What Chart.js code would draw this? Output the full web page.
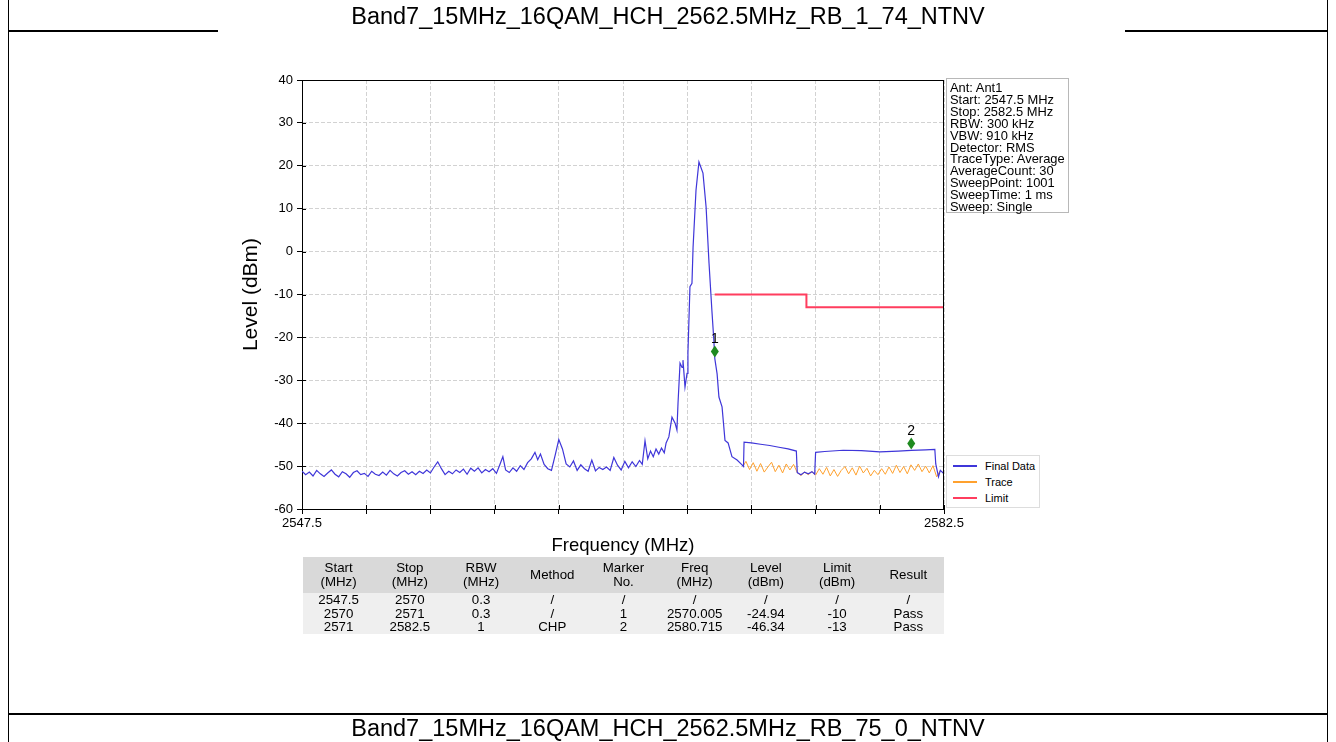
<!DOCTYPE html>
<html><head><meta charset="utf-8">
<script src="https://cdn.jsdelivr.net/npm/chart.js@4/dist/chart.umd.min.js"></script>
<style>
html,body{margin:0;padding:0;background:#fff;}
body{width:1336px;height:742px;position:relative;overflow:hidden;font-family:Arial,"Liberation Sans",sans-serif;color:#000;}
.ln{position:absolute;background:#000;}
.pt{position:absolute;left:8px;width:1320px;text-align:center;font-size:23.5px;line-height:28px;white-space:nowrap;}
#c{position:absolute;left:0;top:0;}
#info{position:absolute;left:946px;top:78px;width:123px;height:135px;border:1px solid #b8b8b8;font-size:12.9px;line-height:11.9px;padding:3px 0 0 3px;box-sizing:border-box;white-space:nowrap;background:#fff;}
#legend{position:absolute;left:946px;top:455px;width:94px;height:53px;border:1px solid #dddddd;box-sizing:border-box;background:#fff;font-size:11px;}
#legend .it{position:absolute;left:6px;height:14px;width:90px;}
#legend .sw{position:absolute;left:0;top:6px;width:24px;height:2px;}
#legend .tx{position:absolute;left:32px;top:0;line-height:14px;}
#tbl{position:absolute;left:303px;top:557px;width:641px;border-collapse:collapse;table-layout:fixed;font-size:13.3px;}
#tbl td{text-align:center;padding:0;line-height:13.6px;white-space:nowrap;}
#tbl tr.h td{background:#d9d9d9;height:36px;line-height:14px;}
#tbl tr.d td{background:#efefef;}
</style></head>
<body>
<canvas id="c" width="1336" height="742"></canvas>
<div class="ln" style="left:8px;top:0;width:1px;height:742px"></div>
<div class="ln" style="left:1327px;top:0;width:1px;height:742px"></div>
<div class="ln" style="left:8px;top:30px;width:210px;height:2px"></div>
<div class="ln" style="left:1125px;top:30px;width:203px;height:2px"></div>
<div class="ln" style="left:8px;top:713px;width:1320px;height:2px"></div>
<div class="pt" id="t1" style="top:2px"></div>
<div class="pt" id="t2" style="top:714px"></div>
<div id="info"></div>
<div id="legend"></div>
<table id="tbl"></table>
<script>
// ---------- data ----------
const pageTitleTop = 'Band7_15MHz_16QAM_HCH_2562.5MHz_RB_1_74_NTNV';
const pageTitleBottom = 'Band7_15MHz_16QAM_HCH_2562.5MHz_RB_75_0_NTNV';
const xTickValues = [2547.5,2551,2554.5,2558,2561.5,2565,2568.5,2572,2575.5,2579,2582.5];
const yTickValues = [-60,-50,-40,-30,-20,-10,0,10,20,30,40];

const finalFreq = [
2547.5,2547.7,2547.9,2548.1,2548.3,2548.5,2548.7,2548.9,2549.1,2549.3,2549.5,2549.7,2549.9,2550.1,2550.3,2550.5,2550.7,2550.9,
2551.1,2551.3,2551.5,2551.7,2551.9,2552.1,2552.3,2552.5,2552.7,2552.9,2553.1,2553.3,2553.5,2553.7,2553.9,2554.1,2554.3,2554.5,
2554.7,2554.9,2555.1,2555.3,2555.5,2555.7,2555.9,2556.1,2556.3,2556.5,2556.7,2556.9,2557.1,2557.3,2557.5,2557.7,2557.9,2558.1,
2558.3,2558.45,2558.6,2558.8,2559.0,2559.2,2559.4,2559.6,2559.8,2560.0,2560.2,2560.35,2560.5,2560.7,2560.9,2561.1,2561.3,2561.5,
2561.7,2561.9,2562.1,2562.3,2562.5,2562.7,2562.9,2563.1,2563.3,2563.5,2563.7,2563.9,2564.1,2564.3,2564.5,2564.7,2564.9,2565.1,
2565.3,2565.5,2565.7,2565.9,2566.05,2566.2,2566.35,2566.5,2566.65,2566.8,2566.95,2567.1,2567.25,2567.35,2567.5,2567.67,2567.84,
2567.94,2568.0,2568.11,2568.22,2568.27,2568.38,2568.49,2568.54,2568.65,2568.76,2568.82,2568.98,2569.14,2569.36,2569.53,2569.69,
2569.85,2569.95,2570.005,2570.13,2570.23,2570.4,2570.56,2570.73,2570.94,2571.22,2571.49,2571.57,2571.6,2572.0,2572.5,2573.0,
2573.5,2574.0,2574.45,2574.5,2574.7,2574.9,2575.1,2575.3,2575.45,2575.5,2576.0,2577.0,2578.0,2579.0,2580.0,2580.715,2581.5,
2582.0,2582.05,2582.2,2582.3,2582.5];
const finalLevel = [
-51.2,-52.0,-51.4,-52.3,-51.0,-51.8,-52.4,-51.6,-50.9,-51.9,-52.5,-51.3,-51.8,-52.6,-51.5,-51.1,-52.0,-51.7,
-52.4,-51.2,-51.9,-52.2,-51.4,-52.1,-51.0,-51.8,-52.3,-51.5,-51.1,-51.9,-51.3,-52.0,-51.2,-51.7,-50.9,-51.6,
-50.2,-49.0,-50.6,-52.0,-51.2,-51.8,-50.9,-51.5,-50.7,-51.9,-50.5,-51.2,-50.4,-51.6,-50.8,-51.3,-50.6,-51.7,
-49.5,-47.8,-50.9,-51.5,-50.4,-51.2,-49.9,-50.8,-49.2,-48.3,-46.8,-48.5,-47.2,-49.6,-50.6,-51.0,-47.5,-43.8,
-46.0,-49.5,-50.2,-48.8,-51.0,-49.7,-50.6,-51.2,-48.6,-51.1,-50.3,-50.8,-50.2,-51.0,-48.0,-49.8,-50.9,-48.9,
-50.4,-49.0,-50.1,-48.7,-49.6,-44.1,-48.3,-46.5,-47.8,-46.0,-47.2,-45.8,-46.9,-44.6,-43.2,-38.6,-40.0,
-41.6,-35.3,-26.0,-27.0,-25.3,-31.6,-28.4,-23.7,-8.2,-7.4,1.0,14.3,20.9,18.3,10.4,-2.7,
-14.0,-20.5,-24.94,-28.5,-33.9,-36.2,-44.0,-44.6,-47.8,-48.6,-49.7,-50.1,-44.4,-44.6,-44.9,-45.2,
-45.6,-46.0,-46.5,-51.5,-52.0,-51.4,-51.8,-51.3,-51.9,-46.8,-46.6,-46.3,-46.4,-46.7,-46.5,-46.34,-46.2,
-46.1,-49.5,-52.5,-51.0,-51.8];

const traceFreq = [
2571.55,2571.7,2571.9,2572.1,2572.3,2572.5,2572.7,2572.9,2573.1,2573.3,2573.5,2573.7,2573.9,2574.1,2574.3,2574.5,
2574.7,2574.9,2575.1,2575.3,2575.5,2575.7,2575.9,2576.1,2576.3,2576.5,2576.7,2576.9,2577.1,2577.3,2577.5,2577.7,
2577.9,2578.1,2578.3,2578.5,2578.7,2578.9,2579.1,2579.3,2579.5,2579.7,2579.9,2580.1,2580.3,2580.5,2580.7,2580.9,
2581.1,2581.3,2581.5,2581.7,2581.9,2582.1,2582.3,2582.5];
const traceLevel = [
-50.0,-48.9,-50.8,-49.2,-51.2,-49.4,-51.4,-50.2,-49.1,-51.3,-49.8,-51.6,-49.5,-50.9,-49.6,-51.5,
-52.2,-51.4,-52.0,-51.3,-52.1,-50.6,-51.9,-50.3,-52.3,-50.8,-52.4,-51.0,-50.1,-51.8,-50.4,-52.1,
-50.0,-51.6,-50.5,-52.3,-51.0,-52.0,-50.6,-51.9,-50.2,-51.7,-49.8,-51.5,-50.1,-51.8,-49.7,-51.0,
-49.5,-51.3,-50.0,-51.6,-49.9,-52.5,-51.0,-51.8];

const limitFreq = [2570, 2575, 2575, 2582.5];
const limitLevel = [-10, -10, -13, -13];

const markerNo = ['1', '2'];
const markerFreq = [2570.005, 2580.715];
const markerLevel = [-24.94, -46.34];

const seriesNames = ['Final Data', 'Trace', 'Limit'];
const seriesColors = ['#3f36d9', '#ffa12e', '#ff3d5e'];

const infoLines = ['Ant: Ant1','Start: 2547.5 MHz','Stop: 2582.5 MHz','RBW: 300 kHz','VBW: 910 kHz','Detector: RMS',
  'TraceType: Average','AverageCount: 30','SweepPoint: 1001','SweepTime: 1 ms','Sweep: Single'];

const tableHeader = ['Start<br>(MHz)','Stop<br>(MHz)','RBW<br>(MHz)','Method','Marker<br>No.','Freq<br>(MHz)','Level<br>(dBm)','Limit<br>(dBm)','Result'];
const tableRows = [
  ['2547.5','2570','0.3','/','/','/','/','/','/'],
  ['2570','2571','0.3','/','1','2570.005','-24.94','-10','Pass'],
  ['2571','2582.5','1','CHP','2','2580.715','-46.34','-13','Pass']
];

// ---------- html parts ----------
document.getElementById('t1').textContent = pageTitleTop;
document.getElementById('t2').textContent = pageTitleBottom;
document.getElementById('info').innerHTML = infoLines.map(s => '<div>' + s + '</div>').join('');
document.getElementById('legend').innerHTML = seriesNames.map((n, i) =>
  '<div class="it" style="top:' + (3 + i * 16) + 'px"><div class="sw" style="background:' + seriesColors[i] + '"></div><div class="tx">' + n + '</div></div>').join('');
let th = '<colgroup>' + tableHeader.map(() => '<col style="width:71.2px">').join('') + '</colgroup>';
th += '<tr class="h">' + tableHeader.map(h => '<td>' + h + '</td>').join('') + '</tr>';
th += tableRows.map(r => '<tr class="d">' + r.map(c => '<td>' + c + '</td>').join('') + '</tr>').join('');
document.getElementById('tbl').innerHTML = th;

// ---------- chart ----------
const toXY = (fs, ls) => fs.map((f, i) => ({x: f, y: ls[i]}));

const framePlugin = {
  id: 'frame',
  afterDatasetsDraw(chart) {
    const {ctx, chartArea: a, scales} = chart;
    ctx.save();
    ctx.strokeStyle = '#000';
    ctx.lineWidth = 1;
    ctx.beginPath();
    ctx.moveTo(a.left, a.top + 0.5); ctx.lineTo(a.right, a.top + 0.5);
    ctx.moveTo(a.right - 0.5, a.top); ctx.lineTo(a.right - 0.5, a.bottom);
    scales.x.ticks.forEach(t => {
      const px = Math.round(scales.x.getPixelForValue(t.value)) + 0.5;
      ctx.moveTo(px, a.bottom); ctx.lineTo(px, a.bottom - 4);
    });
    scales.y.ticks.forEach(t => {
      const py = Math.round(scales.y.getPixelForValue(t.value)) + 0.5;
      ctx.moveTo(a.left, py); ctx.lineTo(a.left + 4, py);
    });
    ctx.stroke();
    ctx.restore();
  }
};

const markerPlugin = {
  id: 'markers',
  afterDatasetsDraw(chart) {
    const {ctx, scales} = chart;
    ctx.save();
    markerFreq.forEach((f, i) => {
      const px = scales.x.getPixelForValue(f);
      const py = scales.y.getPixelForValue(markerLevel[i]) - 7;
      ctx.fillStyle = '#1f8a1f';
      ctx.beginPath();
      ctx.moveTo(px, py - 6); ctx.lineTo(px + 4, py); ctx.lineTo(px, py + 6); ctx.lineTo(px - 4, py);
      ctx.closePath(); ctx.fill();
      ctx.fillStyle = '#000';
      ctx.font = '14px Arial, "Liberation Sans", sans-serif';
      ctx.textAlign = 'center'; ctx.textBaseline = 'middle';
      ctx.fillText(markerNo[i], px, py - 12);
    });
    ctx.restore();
  }
};

new Chart(document.getElementById('c'), {
  type: 'line',
  data: {
    datasets: [
      {label: seriesNames[0], data: toXY(finalFreq, finalLevel), borderColor: seriesColors[0], borderWidth: 1.2, pointRadius: 0, tension: 0},
      {label: seriesNames[1], data: toXY(traceFreq, traceLevel), borderColor: seriesColors[1], borderWidth: 1, pointRadius: 0, tension: 0},
      {label: seriesNames[2], data: toXY(limitFreq, limitLevel), borderColor: seriesColors[2], borderWidth: 2, pointRadius: 0, tension: 0}
    ]
  },
  options: {
    responsive: false, animation: false, devicePixelRatio: 1,
    layout: {padding: {left: 236, top: 80, right: 392, bottom: 173}},
    plugins: {legend: {display: false}, tooltip: {enabled: false}},
    scales: {
      x: {
        type: 'linear', min: 2547.5, max: 2582.5,
        afterBuildTicks: s => { s.ticks = xTickValues.map(v => ({value: v})); },
        afterFit: s => { s.height = 60; },
        ticks: {autoSkip: false, maxRotation: 0, color: '#000', padding: 2,
          font: {family: 'Arial, "Liberation Sans", sans-serif', size: 13},
          callback: (v, i, t) => (i === 0 || i === t.length - 1) ? Number(v).toFixed(1) : ''},
        grid: {color: '#d2d2d2', lineWidth: 1, tickLength: 5, tickColor: '#000', tickWidth: 1, tickBorderDash: []},
        border: {display: true, color: '#000', width: 1, dash: [4, 2]},
        title: {display: true, text: 'Frequency (MHz)', color: '#000',
          font: {family: 'Arial, "Liberation Sans", sans-serif', size: 18.5}, padding: {top: 0, bottom: 12}}
      },
      y: {
        type: 'linear', min: -60, max: 40,
        afterBuildTicks: s => { s.ticks = yTickValues.map(v => ({value: v})); },
        afterFit: s => { s.width = 66; },
        ticks: {color: '#000', padding: 4, font: {family: 'Arial, "Liberation Sans", sans-serif', size: 13}},
        grid: {color: '#d2d2d2', lineWidth: 1, tickLength: 5, tickColor: '#000', tickWidth: 1, tickBorderDash: []},
        border: {display: true, color: '#000', width: 1, dash: [4, 2]},
        title: {display: true, text: 'Level (dBm)', color: '#000',
          font: {family: 'Arial, "Liberation Sans", sans-serif', size: 21}, padding: {top: 3, bottom: 0}}
      }
    }
  },
  plugins: [framePlugin, markerPlugin]
});
</script>
</body></html>
